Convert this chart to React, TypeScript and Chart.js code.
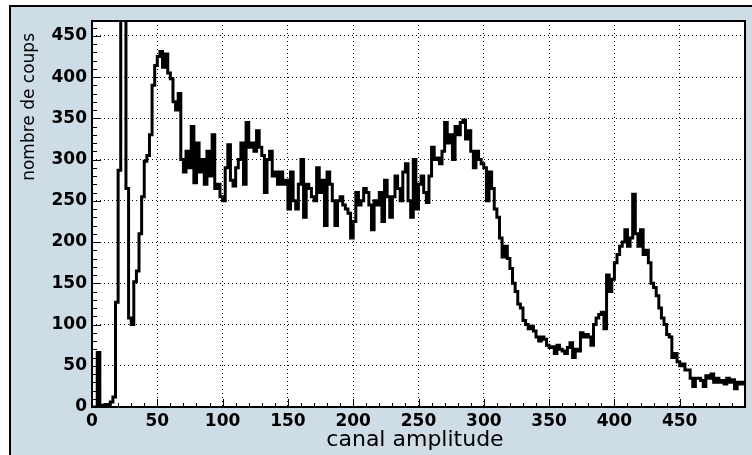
import React, { useEffect, useRef } from "react";
import { Chart, registerables } from "chart.js";

Chart.register(...registerables);

// Histogram: counts per channel bin (bin width 2 channels, from 0 to 500)
const binWidth = 2;
const counts = [
  0, 0, 66, 2, 2, 3, 3, 6, 12, 127,
  287, 600, 600, 265, 108, 100, 152, 165, 210, 255,
  298, 305, 330, 390, 414, 425, 431, 412, 428, 405,
  398, 370, 360, 380, 300, 285, 310, 290, 340, 272,
  320, 285, 300, 270, 310, 280, 330, 265, 270, 255,
  250, 290, 318, 275, 268, 290, 300, 320, 270, 345,
  315, 320, 310, 335, 315, 305, 260, 300, 310, 280,
  285, 270, 285, 270, 275, 240, 285, 250, 240, 270,
  300, 230, 270, 265, 255, 250, 290, 260, 275, 220,
  285, 270, 250, 220, 250, 255, 245, 240, 235, 205,
  225, 260, 245, 250, 265, 260, 245, 215, 250, 245,
  260, 225, 275, 255, 230, 255, 280, 265, 250, 285,
  295, 250, 230, 300, 240, 270, 280, 260, 248, 280,
  315, 300, 302, 295, 310, 345, 320, 330, 300, 340,
  330, 345, 348, 325, 335, 310, 290, 310, 300, 295,
  290, 250, 285, 265, 240, 230, 205, 182, 195, 180,
  168, 150, 140, 125, 120, 105, 100, 95, 98, 92,
  85, 80, 85, 82, 75, 72, 73, 65, 75, 70,
  68, 65, 72, 78, 60, 70, 68, 90, 85, 88,
  85, 75, 100, 108, 112, 115, 95, 160, 140, 155,
  175, 185, 195, 200, 215, 195, 205, 258, 210, 195,
  215, 185, 190, 175, 150, 145, 135, 120, 108, 100,
  88, 85, 60, 65, 55, 50, 52, 45, 45, 35,
  25, 35, 35, 32, 25, 38, 35, 40, 30, 35,
  30, 32, 28, 35, 30, 33, 22, 30, 28, 30,
];

const xMin = 0;
const xMax = 500;
const yMin = 0;
const yMax = 468;
const majorStep = 50;
const minorStep = 10;
const hiddenXLabels = [500];
const xTitle = "canal amplitude";
const yTitle = "nombre de coups";

const PANEL = "#cddce5";
const TICK_FONT = { family: "DejaVu Sans", weight: "bold" as const, size: 17 };

export default function App() {
  const ref = useRef<HTMLCanvasElement>(null);

  useEffect(() => {
    const canvas = ref.current;
    if (!canvas) return;

    const points = counts.map((v, i) => ({ x: i * binWidth, y: v }));
    points.push({ x: counts.length * binWidth, y: counts[counts.length - 1] });

    const decor = {
      id: "decor",
      beforeDraw(chart: any) {
        const { ctx, width, height, chartArea: a } = chart;
        ctx.save();
        ctx.fillStyle = "#ffffff";
        ctx.fillRect(0, 0, width, height);
        ctx.fillStyle = PANEL;
        ctx.fillRect(10, 6, width - 10, height - 6);
        ctx.fillStyle = "#000000";
        ctx.fillRect(9, 5, width - 9, 2);
        ctx.fillRect(9, 5, 2, height - 5);
        ctx.fillStyle = "#ffffff";
        ctx.fillRect(a.left, a.top, a.right - a.left, a.bottom - a.top);
        ctx.restore();
      },
      afterDraw(chart: any) {
        const { ctx, chartArea: a, scales } = chart;
        const xs = scales.x;
        const ys = scales.y;
        ctx.save();
        ctx.strokeStyle = "#000000";
        ctx.lineWidth = 1;
        ctx.beginPath();
        for (let v = yMin; v <= yMax; v += minorStep) {
          const py = Math.round(ys.getPixelForValue(v)) + 0.5;
          const len = v % majorStep === 0 ? 9 : 5;
          ctx.moveTo(a.left, py);
          ctx.lineTo(a.left + len, py);
        }
        for (let v = xMin; v <= xMax; v += minorStep) {
          const px = Math.round(xs.getPixelForValue(v)) + 0.5;
          const len = v % majorStep === 0 ? 8 : 4;
          ctx.moveTo(px, a.bottom);
          ctx.lineTo(px, a.bottom - len);
        }
        ctx.stroke();
        ctx.lineWidth = 2;
        ctx.strokeRect(a.left, a.top, a.right - a.left, a.bottom - a.top);

        // axis titles
        ctx.fillStyle = "#000000";
        ctx.font = "22px 'DejaVu Sans'";
        ctx.textAlign = "center";
        ctx.textBaseline = "alphabetic";
        ctx.fillText(xTitle, 415, 446);

        ctx.translate(34, 33);
        ctx.rotate(-Math.PI / 2);
        ctx.font = "17px 'DejaVu Sans'";
        ctx.textAlign = "right";
        ctx.fillText(yTitle, 0, 0);
        ctx.restore();
      },
    };

    const chart = new Chart(canvas, {
      type: "line",
      data: {
        datasets: [
          {
            data: points,
            stepped: true,
            borderColor: "#000000",
            borderWidth: 3,
            pointRadius: 0,
            fill: false,
          },
        ],
      },
      options: {
        animation: false,
        responsive: false,
        devicePixelRatio: 1,
        layout: { padding: { top: 21, right: 7, left: 0, bottom: 0 } },
        plugins: {
          legend: { display: false },
          tooltip: { enabled: false },
        },
        scales: {
          x: {
            type: "linear",
            min: xMin,
            max: xMax,
            afterFit(scale: any) {
              scale.height = 48;
            },
            ticks: {
              stepSize: majorStep,
              includeBounds: false,
              maxRotation: 0,
              autoSkip: false,
              padding: 4,
              color: "#000000",
              font: TICK_FONT,
              callback: (v: any) => (hiddenXLabels.includes(Number(v)) ? "" : String(v)),
            },
            grid: {
              color: "#000000",
              lineWidth: 1,
              drawTicks: false,
            },
            border: { display: false, dash: [1, 3] },
          },
          y: {
            type: "linear",
            min: yMin,
            max: yMax,
            afterFit(scale: any) {
              scale.width = 92;
            },
            ticks: {
              stepSize: majorStep,
              includeBounds: false,
              padding: 5,
              color: "#000000",
              font: TICK_FONT,
            },
            grid: {
              color: "#000000",
              lineWidth: 1,
              drawTicks: false,
            },
            border: { display: false, dash: [1, 3] },
          },
        },
      },
      plugins: [decor],
    });

    return () => chart.destroy();
  }, []);

  return (
    <div style={{ position: "fixed", left: 0, top: 0, width: 752, height: 455 }}>
      <canvas ref={ref} width={752} height={455} />
    </div>
  );
}
